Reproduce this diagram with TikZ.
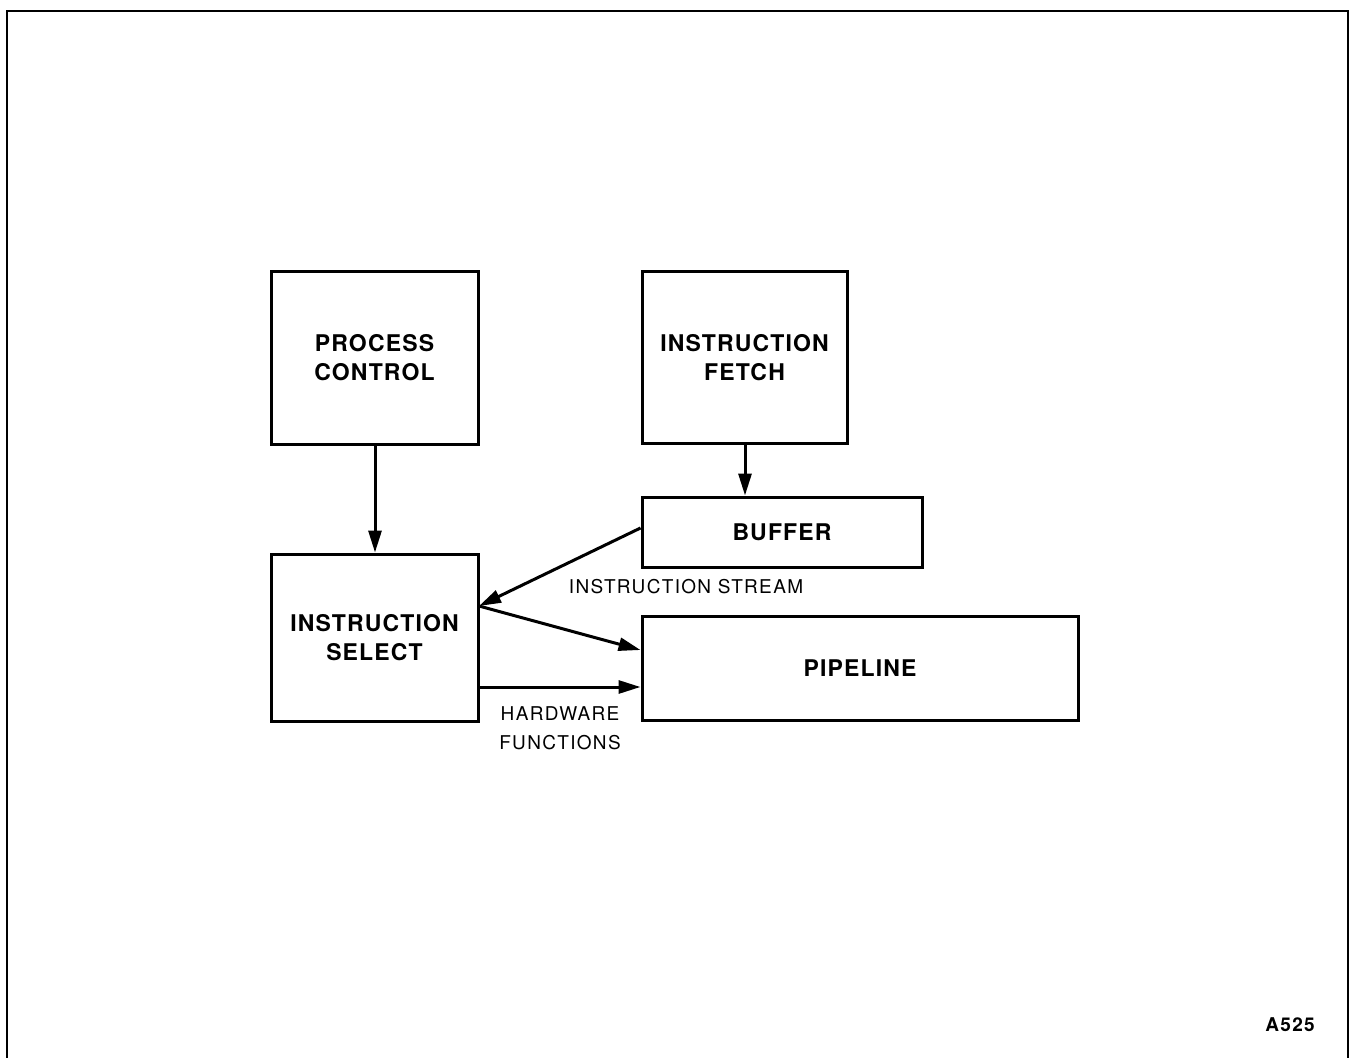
\documentclass[tikz,border=0pt]{standalone}
\usepackage{fontspec}
\setmainfont{TeX Gyre Heros}
\newfontfamily\blkfont[LetterSpace=5]{TeX Gyre Heros}
\newfontfamily\lblfont[LetterSpace=7]{TeX Gyre Heros}
\usetikzlibrary{arrows.meta}
\begin{document}
\begin{tikzpicture}[x=0.5pt,y=-0.5pt,
  blk/.style={draw,line width=1.5pt,inner sep=0pt,align=center,font=\blkfont\bfseries\fontsize{11.5}{14.5}\selectfont},
  lbl/.style={inner sep=0pt,align=center,font=\lblfont\fontsize{9.5}{14.5}\selectfont},
  arr/.style={line width=1.5pt,-{Triangle[length=11pt,width=6.5pt]}}]
\useasboundingbox (0,0) rectangle (1352,1058);
\draw[line width=1pt] (7,1062) -- (7,11) -- (1348,11) -- (1348,1062);
\node[blk,minimum width=103.5pt,minimum height=86pt] (pc) at (374.5,358) {PROCESS\\CONTROL};
\node[blk,minimum width=102.5pt,minimum height=85.5pt] (if) at (744.5,357.5) {INSTRUCTION\\FETCH};
\node[blk,minimum width=140pt,minimum height=35pt] (buf) at (782,532) {BUFFER};
\node[blk,minimum width=103.5pt,minimum height=83.5pt] (is) at (374.5,637.5) {INSTRUCTION\\SELECT};
\node[blk,minimum width=218pt,minimum height=52pt] (pipe) at (860,668) {PIPELINE};
\coordinate (isr1) at (479,606);
\coordinate (isr2) at (479,687);
\draw[arr] (pc.south -| 375,0) -- (is.north -| 375,0);
\draw[arr] (if.south -| 745,0) -- (buf.north -| 745,0);
\draw[arr] (buf.west |- 0,528) -- (isr1);
\draw[arr] (isr1) -- (pipe.west |- 0,650);
\draw[arr] (isr2) -- (pipe.west |- 0,687);
\node[lbl] (ist) at (686,587) {INSTRUCTION STREAM};
\node[lbl] (hf) at (560,728) {HARDWARE\\FUNCTIONS};
\node[lbl,font=\lblfont\bfseries\fontsize{9.5}{14.5}\selectfont] (id) at (1290,1025) {A525};
\end{tikzpicture}
\end{document}
